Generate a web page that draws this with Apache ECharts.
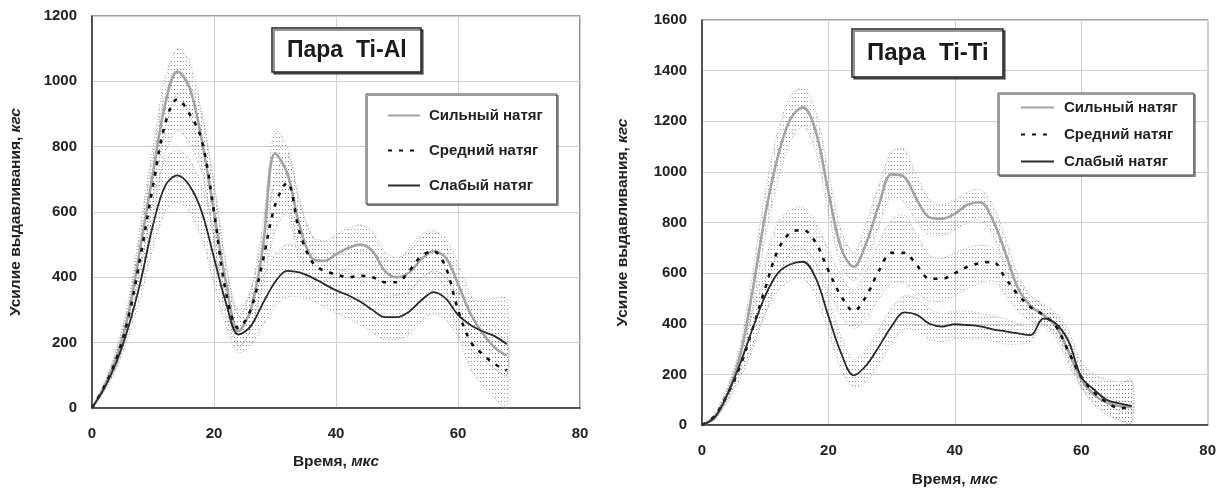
<!DOCTYPE html>
<html>
<head>
<meta charset="utf-8">
<script src="https://cdn.jsdelivr.net/npm/echarts@6/dist/echarts.min.js"></script>
<style>
html,body{margin:0;padding:0;background:#fff;}
#chart{width:1219px;height:493px;}
</style>
</head>
<body>
<div id="chart"></div>
<script>
// ---- data ----
const timeUs = [0,2,4,6,8,10,12,14,16,18,20,22,24,26,28,30,32,34,36,38,40,42,44,46,48,50,52,54,56,58,60,62,64,66,68];
const xTicks = [0,20,40,60,80];
const seriesNames = ['Сильный натяг','Средний натяг','Слабый натяг'];
const chartTitles = ['Пара  Ti-Al','Пара  Ti-Ti'];

// Ti-Al
const tiAlStrong   = [0,65,155,290,500,720,930,1030,980,820,600,380,235,300,490,780,720,560,460,450,470,490,500,480,420,400,415,455,480,460,380,290,230,185,160];
const tiAlStrongHi = [0,75,180,330,570,800,1010,1100,1060,900,680,440,280,360,560,850,800,640,530,510,530,550,560,540,480,460,480,520,540,520,440,350,290,250,220];
const tiAlStrongLo = [0,55,130,250,430,640,850,960,900,740,520,320,190,240,420,690,640,480,400,390,410,430,440,420,360,345,355,395,420,400,320,230,170,120,100];
const tiAlMedium   = [0,65,150,280,470,680,870,945,900,820,600,350,245,300,450,620,690,540,450,420,410,400,405,400,385,385,420,465,480,430,300,205,165,135,115];
const tiAlMediumHi = [0,75,175,320,540,770,960,1040,990,900,690,430,300,360,520,700,780,630,530,490,470,470,480,475,455,450,490,530,545,500,380,300,260,230,200];
const tiAlMediumLo = [0,55,125,240,400,590,780,850,810,720,510,280,190,240,380,540,600,450,370,350,345,335,330,325,315,315,350,400,415,360,230,120,70,30,0];
const tiAlWeak     = [0,60,140,250,390,560,680,712,680,600,460,320,225,250,320,385,420,415,400,380,360,345,325,300,278,278,295,330,355,335,285,255,235,220,195];
const tiAlWeakHi   = [0,70,160,280,440,630,760,790,760,680,540,390,290,320,400,470,500,490,470,450,430,415,395,370,345,345,365,395,420,400,350,330,330,335,335];
const tiAlWeakLo   = [0,50,120,220,340,490,600,630,600,520,380,250,170,190,250,310,340,340,330,310,290,275,255,230,210,210,225,265,290,270,220,180,150,120,100];

// Ti-Ti
const tiTiStrong   = [0,30,120,270,530,830,1060,1210,1255,1160,920,700,625,720,870,990,980,890,820,815,835,870,880,810,680,540,470,435,390,290,180,120,90,75,70];
const tiTiStrongHi = [0,40,140,310,600,920,1160,1300,1330,1240,1000,770,680,800,950,1080,1090,980,890,870,890,920,930,870,740,590,510,470,420,320,200,140,110,95,90];
const tiTiStrongLo = [0,20,100,230,460,740,960,1120,1180,1080,840,630,570,640,790,900,880,800,750,750,770,800,810,750,620,490,430,400,360,260,160,100,70,55,50];
const tiTiMedium   = [0,35,120,230,380,540,690,760,770,720,610,510,450,510,610,680,680,630,578,578,600,625,640,645,580,515,465,435,390,290,190,130,90,67,67];
const tiTiMediumHi = [0,45,150,290,460,650,800,850,860,800,690,590,530,610,720,810,830,750,670,660,680,700,710,700,640,570,510,480,440,340,230,170,150,160,180];
const tiTiMediumLo = [0,25,90,180,300,440,580,680,690,640,530,430,380,420,500,560,560,520,490,490,510,540,560,570,510,450,410,390,340,240,150,90,50,20,10];
const tiTiWeak     = [0,30,120,240,380,510,600,635,645,580,430,285,196,236,310,390,445,435,400,389,398,395,390,378,370,362,355,420,400,330,190,140,100,85,75];
const tiTiWeakHi   = [0,40,140,280,440,580,670,700,700,640,500,350,260,300,380,460,510,500,460,440,450,450,440,430,420,400,390,430,440,370,250,200,180,170,170];
const tiTiWeakLo   = [0,20,100,200,320,440,530,570,580,510,370,220,150,170,240,320,380,370,340,330,340,340,340,330,320,320,330,400,360,280,150,80,40,20,10];

// ---- helpers ----
function pairs(xs, ys){ return xs.map((x,i)=>[x, ys[i]]); }
function hatchPattern(){
  const c = document.createElement('canvas');
  c.width = 3; c.height = 4;
  const g = c.getContext('2d');
  g.fillStyle = 'rgba(110,110,110,0.7)';
  g.fillRect(0,1,1,1);
  return c;
}
const pat = hatchPattern();
const FONT = 'Liberation Sans, Arial, sans-serif';

const styles = [
  {color:'#a3a3a3', width:2.6, type:'solid'},
  {color:'#111', width:2.6, type:[4,7]},
  {color:'#2a2a2a', width:1.8, type:'solid'}
];

// band drawn as a smooth polygon through the library's coordinate system
function bandSeries(k, hi, lo){
  return {
    type:'custom', name:'band', xAxisIndex:k, yAxisIndex:k, silent:true, z:1,
    data:pairs(timeUs, hi),
    renderItem:function(params, api){
      if (params.dataIndex !== 0) return null;
      const up = timeUs.map((x,i)=>api.coord([x, hi[i]]));
      const dn = timeUs.map((x,i)=>api.coord([x, lo[i]])).reverse();
      return {
        type:'polygon',
        shape:{points: up.concat(dn), smooth:0.3},
        style:{fill:{image:pat, repeat:'repeat'}, stroke:'#a8a8a8', lineWidth:1, lineDash:[1,2]}
      };
    }
  };
}
function mainSeries(k, idx, vals){
  return {type:'line', name:seriesNames[idx], xAxisIndex:k, yAxisIndex:k, smooth:0.35,
    data:pairs(timeUs, vals), symbol:'none', showSymbol:false, z:5,
    lineStyle:{color:styles[idx].color, width:styles[idx].width, type:styles[idx].type},
    itemStyle:{color:styles[idx].color}};
}

const series = [
  bandSeries(0,tiAlStrongHi,tiAlStrongLo),
  bandSeries(0,tiAlMediumHi,tiAlMediumLo),
  bandSeries(0,tiAlWeakHi,tiAlWeakLo),
  bandSeries(1,tiTiStrongHi,tiTiStrongLo),
  bandSeries(1,tiTiMediumHi,tiTiMediumLo),
  bandSeries(1,tiTiWeakHi,tiTiWeakLo),
  mainSeries(0,0,tiAlStrong), mainSeries(0,1,tiAlMedium), mainSeries(0,2,tiAlWeak),
  mainSeries(1,0,tiTiStrong), mainSeries(1,1,tiTiMedium), mainSeries(1,2,tiTiWeak)
];

const axisLabel = {color:'#222', fontFamily:FONT, fontSize:15, fontWeight:'bold', formatter:function(v){return String(v);}};
const nameRich = {
  b:{fontFamily:FONT, fontSize:15.5, fontWeight:'bold', color:'#222'},
  i:{fontFamily:FONT, fontSize:15.5, fontWeight:'bold', fontStyle:'italic', color:'#222'}
};
function xAxis(k, gap){
  return {type:'value', gridIndex:k, min:xTicks[0], max:xTicks[xTicks.length-1], interval:20,
    name:'{b|Время, }{i|мкс}', nameLocation:'middle', nameGap:gap, nameTextStyle:{rich:nameRich},
    axisLine:{lineStyle:{color:'#333', width:1.5}}, axisTick:{show:false},
    axisLabel:Object.assign({margin:18}, axisLabel),
    splitLine:{show:true, lineStyle:{color:'#cfcfcf', width:1}}};
}
function yAxis(k, max, gap){
  return {type:'value', gridIndex:k, min:0, max:max, interval:200,
    name:'{b|Усилие выдавливания, }{i|кгс}', nameLocation:'middle', nameGap:gap, nameRotate:90,
    nameTextStyle:{rich:nameRich},
    axisLine:{show:true, lineStyle:{color:'#333', width:1.5}}, axisTick:{show:false},
    axisLabel:Object.assign({margin:15}, axisLabel),
    splitLine:{show:true, lineStyle:{color:'#cfcfcf', width:1}}};
}

const legendCommon = {
  data:seriesNames, orient:'vertical', itemWidth:32, itemHeight:14,
  backgroundColor:'#fff', borderColor:'#444', borderWidth:1,
  shadowColor:'rgba(0,0,0,0.4)', shadowOffsetX:1.5, shadowOffsetY:1.5, selectedMode:false,
  itemStyle:{opacity:0, borderWidth:0}
};

const chart = echarts.init(document.getElementById('chart'), null, {renderer:'canvas'});
chart.setOption({
  animation:false,
  backgroundColor:'#fff',
  title:[
    {text:chartTitles[0], left:272, top:28, padding:[11,15,10,15],
     borderColor:'#222', borderWidth:1.5, backgroundColor:'#fff',
     shadowColor:'rgba(0,0,0,0.55)', shadowOffsetX:2, shadowOffsetY:2,
     textStyle:{fontFamily:FONT, fontSize:23, fontWeight:'bold', color:'#1a1a1a'}},
    {text:chartTitles[1], left:852, top:29, padding:[12,15,12,15],
     borderColor:'#222', borderWidth:1.5, backgroundColor:'#fff',
     shadowColor:'rgba(0,0,0,0.55)', shadowOffsetX:2, shadowOffsetY:2,
     textStyle:{fontFamily:FONT, fontSize:24, fontWeight:'bold', color:'#1a1a1a'}}
  ],
  legend:[
    Object.assign({}, legendCommon, {left:366, top:94, padding:[14,14,11,21], itemGap:20,
     textStyle:{fontFamily:FONT, fontSize:15, fontWeight:'bold', color:'#222', padding:[0,0,0,4]}}),
    Object.assign({}, legendCommon, {left:998, top:93, padding:[7,16,6,22], itemGap:12, itemWidth:33,
     textStyle:{fontFamily:FONT, fontSize:15, fontWeight:'bold', color:'#222', padding:[0,0,0,5]}})
  ],
  grid:[
    {left:92, top:16, width:488, height:392, show:true, borderColor:'#444', borderWidth:1.2, backgroundColor:'transparent'},
    {left:702, top:20, width:508, height:407, show:true, borderColor:'#444', borderWidth:1.2, backgroundColor:'transparent'}
  ],
  xAxis:[xAxis(0,46), xAxis(1,47)],
  yAxis:[yAxis(0,1200,68), yAxis(1,1600,71)],
  series:series
});
</script>
</body>
</html>
